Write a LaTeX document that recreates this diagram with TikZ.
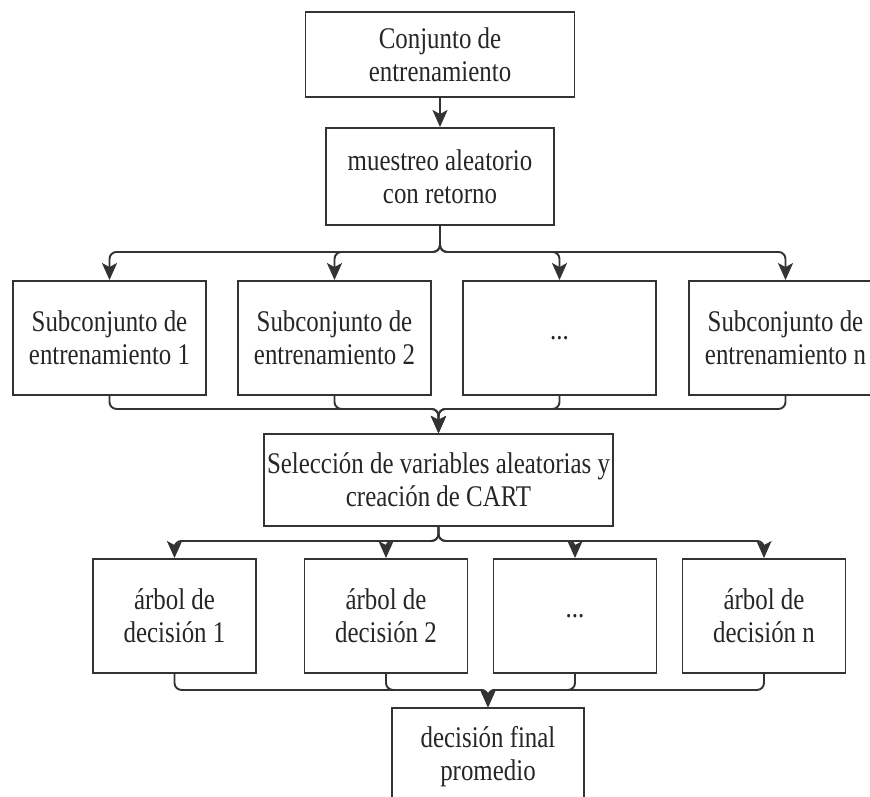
\documentclass[tikz,border=0pt]{standalone}
\usepackage{fontspec}
\setmainfont{Liberation Serif}[FakeStretch=0.83]
\usepackage{tikz}
\usetikzlibrary{arrows.meta}
\tikzset{
  box/.style  = {rectangle, draw=black!80, line width=1.9pt, align=center,
                 inner sep=0pt, text=black!85, font=\fontsize{30}{33}\selectfont},
  sub/.style  = {box, minimum width=193pt, minimum height=114pt},
  tree/.style = {box, minimum width=163pt, minimum height=114pt},
  fl/.style   = {-{Stealth[length=17pt,width=15pt,inset=4pt]}, line width=1.9pt,
                 draw=black!80, rounded corners=7pt},
}

\begin{document}
\begin{tikzpicture}[x=1pt,y=-1pt]
    \useasboundingbox (0,0) rectangle (870,796);
    \node[box, minimum width=269pt, minimum height=85pt] (conj) at (440,54.5) {Conjunto de\\entrenamiento};
    \node[box, minimum width=228pt, minimum height=97pt] (muestreo) at (440,176.5) {muestreo aleatorio\\con retorno};
    \node[sub] (sub1) at (109.5,338) {Subconjunto de\\entrenamiento 1};
    \node[sub] (sub2) at (334.5,338) {Subconjunto de\\entrenamiento 2};
    \node[sub] (sub3) at (559.5,338) {...};
    \node[sub] (sub4) at (785.5,338) {Subconjunto de\\entrenamiento n};
    \node[box, minimum width=349pt, minimum height=92pt] (sel) at (438.5,480) {Selección de variables aleatorias y\\creación de CART};
    \node[tree] (arbol1) at (174.5,616) {árbol de\\decisión 1};
    \node[tree] (arbol2) at (386,616) {árbol de\\decisión 2};
    \node[tree] (arbol3) at (575,616) {...};
    \node[tree] (arbol4) at (764,616) {árbol de\\decisión n};
    \node[box, minimum width=192pt, minimum height=97pt] (final) at (488,756.5) {decisión final\\promedio};
    \draw[fl] (conj.south) -- (muestreo.north);
    \foreach \i in {1,...,4} {
      \draw[fl] (muestreo.south) -- ++(0,26) -| (sub\i.north);
      \draw[fl] (sub\i.south) -- ++(0,13) -| (sel.north);
      \draw[fl] (sel.south) -- ++(0,14) -| (arbol\i.north);
      \draw[fl] (arbol\i.south) -- ++(0,16) -| (final.north);
    }
  \end{tikzpicture}
\end{document}
